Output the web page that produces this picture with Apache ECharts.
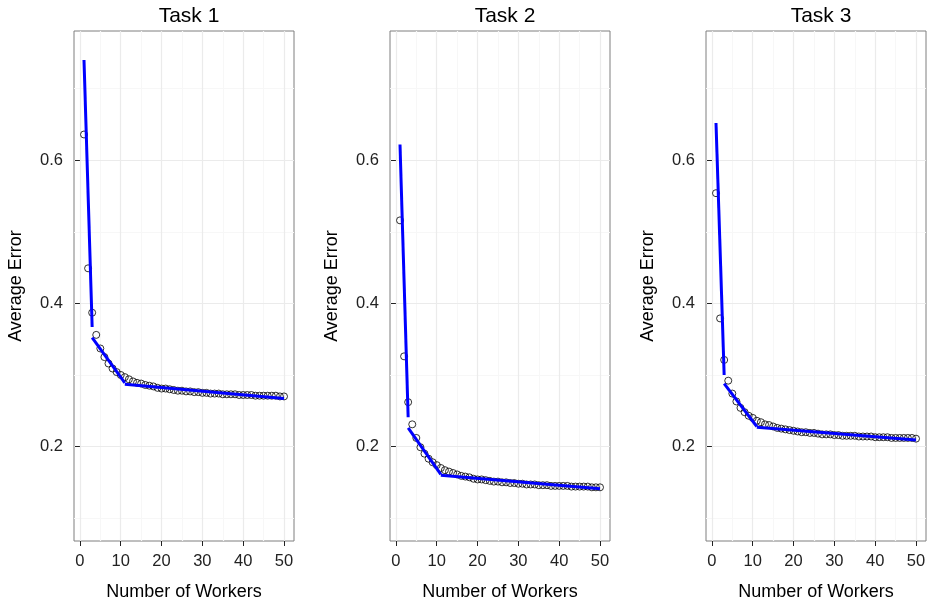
<!DOCTYPE html>
<html><head><meta charset="utf-8">
<script src="https://cdn.jsdelivr.net/npm/echarts@6/dist/echarts.min.js"></script>
<style>html,body{margin:0;padding:0;background:#fff}#c{width:932px;height:606px}</style>
</head><body><div id="c"></div>
<script>
const workers = [1,2,3,4,5,6,7,8,9,10,11,12,13,14,15,16,17,18,19,20,21,22,23,24,25,26,27,28,29,30,31,32,33,34,35,36,37,38,39,40,41,42,43,44,45,46,47,48,49,50];
const task1Error = [0.636,0.449,0.387,0.356,0.337,0.325,0.316,0.309,0.304,0.300,
  0.297,0.294,0.291,0.289,0.288,0.286,0.285,0.284,0.282,0.281,
  0.281,0.280,0.279,0.278,0.278,0.277,0.277,0.276,0.276,0.275,
  0.275,0.274,0.274,0.274,0.273,0.273,0.273,0.273,0.272,0.272,
  0.272,0.272,0.271,0.271,0.271,0.271,0.271,0.271,0.270,0.270];
const task2Error = [0.516,0.326,0.262,0.231,0.212,0.199,0.190,0.183,0.178,0.174,
  0.170,0.167,0.165,0.163,0.161,0.159,0.158,0.157,0.155,0.154,
  0.154,0.153,0.152,0.151,0.151,0.150,0.150,0.149,0.149,0.148,
  0.148,0.147,0.147,0.147,0.146,0.146,0.146,0.145,0.145,0.145,
  0.145,0.145,0.144,0.144,0.144,0.144,0.144,0.143,0.143,0.143];
const task3Error = [0.554,0.379,0.321,0.292,0.274,0.263,0.254,0.248,0.243,0.240,
  0.236,0.234,0.231,0.230,0.228,0.226,0.225,0.224,0.223,0.222,
  0.221,0.220,0.220,0.219,0.219,0.218,0.217,0.217,0.217,0.216,
  0.216,0.215,0.215,0.215,0.215,0.214,0.214,0.214,0.214,0.213,
  0.213,0.213,0.213,0.212,0.212,0.212,0.212,0.212,0.212,0.211];
// piecewise fitted segments: [start, end] pairs of [workers, error]
const task1Fit = [[[1,0.740],[3,0.367]], [[3,0.352],[11,0.289]], [[11,0.287],[50,0.267]]];
const task2Fit = [[[1,0.622],[3,0.241]], [[3,0.226],[11,0.161]], [[11,0.160],[50,0.141]]];
const task3Fit = [[[1,0.652],[3,0.300]], [[3,0.288],[11,0.228]], [[11,0.227],[50,0.209]]];
const panelTitles = ['Task 1','Task 2','Task 3'];
const xMajorTicks = [0,10,20,30,40,50];
const xMinorTicks = [5,15,25,35,45];
const yMajorTicks = [0.2,0.4,0.6];
const yMinorTicks = [0.1,0.3,0.5,0.7];

const FONT = "'Liberation Sans', Arial, Helvetica, sans-serif";
const errors = [task1Error, task2Error, task3Error];
const fits = [task1Fit, task2Fit, task3Fit];
const lefts = [74, 390, 706];
const W = 220, TOP = 31, H = 513;
const XMIN = -1.45, XMAX = 52.45, YMIN = 0.068, YMAX = 0.7806;

const grid = [], xAxis = [], yAxis = [], series = [], title = [];
for (let i = 0; i < 3; i++) {
  grid.push({left: lefts[i], top: TOP, width: W, height: H, show: true,
    borderColor: '#7f7f7f', borderWidth: 1, backgroundColor: '#fff', containLabel: false});
  title.push({text: panelTitles[i], left: lefts[i] + W/2, top: 1, textAlign: 'center',
    textStyle: {fontFamily: FONT, fontSize: 21, fontWeight: 'normal', color: '#000'}});
  xAxis.push({type: 'value', gridIndex: i, min: XMIN, max: XMAX, position: 'bottom',
    name: 'Number of Workers', nameLocation: 'middle', nameGap: 42,
    nameTextStyle: {fontFamily: FONT, fontSize: 18, color: '#000'},
    axisLine: {show: false},
    axisTick: {show: true, length: 5, customValues: xMajorTicks, lineStyle: {color: '#222', width: 1}},
    axisLabel: {show: true, customValues: xMajorTicks, margin: 12, fontFamily: FONT, fontSize: 16.5, color: '#222'},
    splitLine: {show: true, lineStyle: {color: '#ebebeb', width: 1.2}},
    z: 3});
  xAxis.push({type: 'value', gridIndex: i, min: XMIN, max: XMAX, position: 'bottom',
    axisLine: {show: false},
    axisTick: {show: false, customValues: xMinorTicks},
    axisLabel: {show: false, customValues: xMinorTicks},
    splitLine: {show: true, lineStyle: {color: '#f7f7f7', width: 1.2}},
    z: 2});
  yAxis.push({type: 'value', gridIndex: i, min: YMIN, max: YMAX, position: 'left',
    name: 'Average Error', nameLocation: 'middle', nameGap: 49,
    nameTextStyle: {fontFamily: FONT, fontSize: 18, color: '#000'},
    axisLine: {show: false},
    axisTick: {show: true, length: 5, customValues: yMajorTicks, lineStyle: {color: '#222', width: 1}},
    axisLabel: {show: true, customValues: yMajorTicks, margin: 11, fontFamily: FONT, fontSize: 16.5, color: '#222',
      formatter: v => v.toFixed(1)},
    splitLine: {show: true, lineStyle: {color: '#ebebeb', width: 1.2}},
    z: 3});
  yAxis.push({type: 'value', gridIndex: i, min: YMIN, max: YMAX, position: 'left',
    axisLine: {show: false},
    axisTick: {show: false, customValues: yMinorTicks},
    axisLabel: {show: false, customValues: yMinorTicks},
    splitLine: {show: true, lineStyle: {color: '#f7f7f7', width: 1.2}},
    z: 2});
  series.push({type: 'scatter', xAxisIndex: 2*i, yAxisIndex: 2*i,
    data: workers.map((w, k) => [w, errors[i][k]]),
    symbol: 'circle', symbolSize: 7,
    itemStyle: {color: 'rgba(0,0,0,0)', borderColor: '#000', borderWidth: 1},
    silent: true, z: 4});
  fits[i].forEach(seg => {
    series.push({type: 'line', xAxisIndex: 2*i, yAxisIndex: 2*i, data: seg,
      showSymbol: false, symbol: 'none', lineStyle: {color: '#0000ff', width: 3, cap: 'butt'},
      silent: true, z: 5, animation: false});
  });
}

const chart = echarts.init(document.getElementById('c'), null, {renderer: 'canvas'});
chart.setOption({animation: false, backgroundColor: '#fff', title, grid, xAxis, yAxis, series});
</script></body></html>
